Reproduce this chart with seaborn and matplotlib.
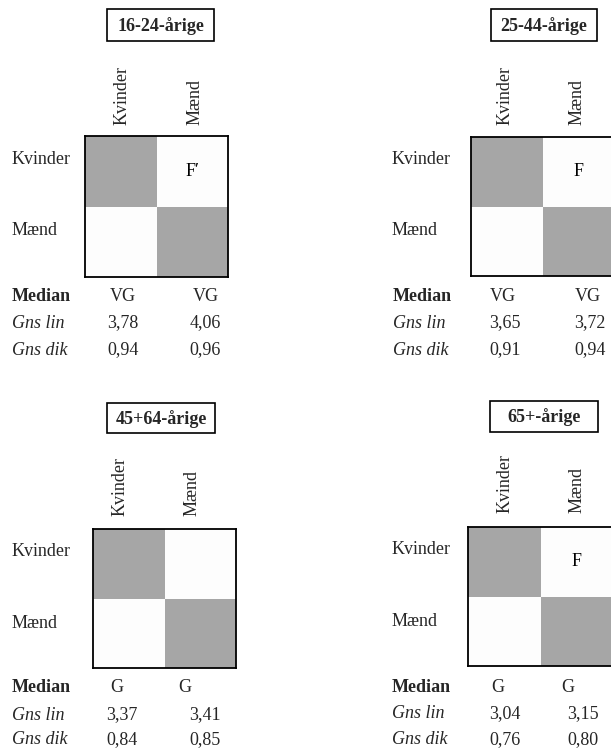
import numpy as np
import matplotlib
matplotlib.use("Agg")
import matplotlib.pyplot as plt
import seaborn as sns
from matplotlib.colors import LinearSegmentedColormap
from matplotlib.patches import Rectangle

# ---------------- data ----------------
titles = ["16-24-årige", "25-44-årige", "45+64-årige", "65+-årige"]
groups = ["Kvinder", "Mænd"]
shade = [  # same-sex / cross-sex block shading (1 = grey, 0 = white)
    [[1, 0], [0, 1]],
    [[1, 0], [0, 1]],
    [[1, 0], [0, 1]],
    [[1, 0], [0, 1]],
]
marks = ["F\u2032", "F", "", "F"]          # mark in the Kvinder/Mænd cell
median = [["VG", "VG"], ["VG", "VG"], ["G", "G"], ["G", "G"]]
gns_lin = [[3.78, 4.06], [3.65, 3.72], [3.37, 3.41], [3.04, 3.15]]
gns_dik = [[0.94, 0.96], [0.91, 0.94], [0.84, 0.85], [0.76, 0.80]]
row_names = ["Median", "Gns lin", "Gns dik"]

# ---------------- layout (pixels) ----------------
W, H = 611, 749
sns.set_theme(style="white")
plt.rcParams["font.family"] = ["Liberation Serif", "DejaVu Serif"]
FS = 13

layout = [
    dict(box=(107, 9, 107, 32), hm=(85, 136, 143, 141), col_x=(122, 195), col_b=125,
         row_x=12, row_y=(159, 231), tab_lx=12, tab_y=(296, 323, 350),
         med_x=(123, 206), num_x=(123, 205)),
    dict(box=(491, 9, 106, 32), hm=(471, 137, 143, 139), col_x=(505, 577), col_b=125,
         row_x=392, row_y=(160, 231), tab_lx=393, tab_y=(296, 323, 350),
         med_x=(503, 588), num_x=(505, 590)),
    dict(box=(107, 403, 108, 30), hm=(93, 529, 143, 139), col_x=(120, 192), col_b=516,
         row_x=12, row_y=(552, 623), tab_lx=12, tab_y=(688, 715, 740),
         med_x=(117, 185), num_x=(122, 205)),
    dict(box=(490, 401, 108, 31), hm=(468, 527, 145, 139), col_x=(505, 577), col_b=513,
         row_x=392, row_y=(550, 622), tab_lx=392, tab_y=(687, 714, 740),
         med_x=(498, 568), num_x=(505, 583)),
]

fig = plt.figure(figsize=(W / 100, H / 100), dpi=100)
fig.patch.set_facecolor("white")


def fx(x):
    return x / W


def fy(y):
    return 1 - y / H


def fmt(v):
    return f"{v:.2f}".replace(".", ",")


cmap = LinearSegmentedColormap.from_list("g", ["#fdfdfd", "#a6a6a6"])

for i, L in enumerate(layout):
    # title box
    bx, by, bw, bh = L["box"]
    fig.patches.append(Rectangle((fx(bx), fy(by + bh)), bw / W, bh / H,
                                 transform=fig.transFigure, fill=False,
                                 ec="black", lw=1.2))
    fig.text(fx(bx + bw / 2), fy(by + bh / 2 + 1), titles[i], ha="center",
             va="center", fontsize=FS, fontweight="bold")

    # heatmap
    hx, hy, hw, hh = L["hm"]
    ax = fig.add_axes([fx(hx), fy(hy + hh), hw / W, hh / H])
    annot = np.array([["", marks[i]], ["", ""]], dtype=object)
    sns.heatmap(np.array(shade[i]), ax=ax, cmap=cmap, vmin=0, vmax=1,
                cbar=False, xticklabels=False, yticklabels=False,
                annot=annot, fmt="",
                annot_kws=dict(fontsize=FS, color="black",
                               family=["Liberation Serif", "DejaVu Serif"]))
    for sp in ax.spines.values():
        sp.set_visible(True)
        sp.set_color("black")
        sp.set_linewidth(1.3)

    # column labels
    for j, g in enumerate(groups):
        fig.text(fx(L["col_x"][j]), fy(L["col_b"]), g, rotation=90,
                 ha="center", va="bottom", fontsize=FS)
    # row labels
    for j, g in enumerate(groups):
        fig.text(fx(L["row_x"]), fy(L["row_y"][j]), g, ha="left",
                 va="center", fontsize=FS)

    # table
    ty = L["tab_y"]
    fig.text(fx(L["tab_lx"]), fy(ty[0]), row_names[0], ha="left",
             va="center", fontsize=FS, fontweight="bold")
    fig.text(fx(L["tab_lx"]), fy(ty[1]), row_names[1], ha="left",
             va="center", fontsize=FS, style="italic")
    fig.text(fx(L["tab_lx"]), fy(ty[2]), row_names[2], ha="left",
             va="center", fontsize=FS, style="italic")
    for j in range(2):
        fig.text(fx(L["med_x"][j]), fy(ty[0]), median[i][j], ha="center",
                 va="center", fontsize=FS)
        fig.text(fx(L["num_x"][j]), fy(ty[1]), fmt(gns_lin[i][j]), ha="center",
                 va="center", fontsize=FS)
        fig.text(fx(L["num_x"][j]), fy(ty[2]), fmt(gns_dik[i][j]), ha="center",
                 va="center", fontsize=FS)

fig.savefig("out.png", dpi=100, facecolor="white")
